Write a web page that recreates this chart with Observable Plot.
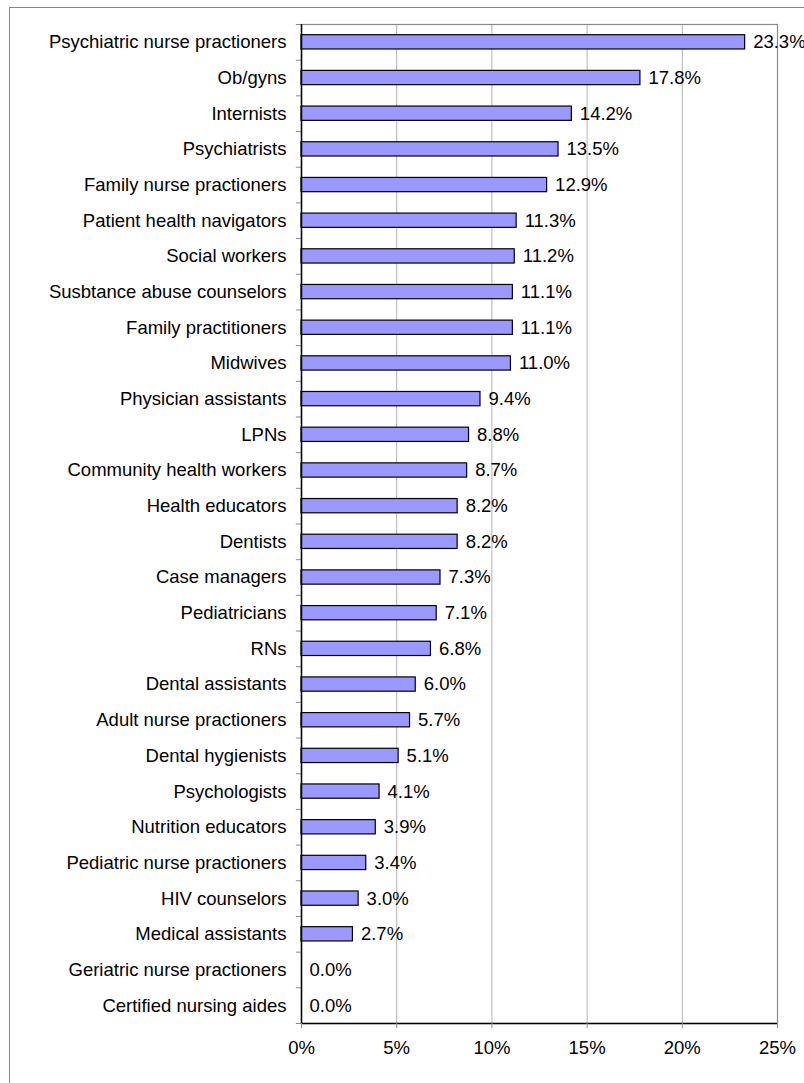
<!DOCTYPE html>
<html>
<head>
<meta charset="utf-8">
<script src="https://cdn.jsdelivr.net/npm/d3@7"></script>
<script src="https://cdn.jsdelivr.net/npm/@observablehq/plot@0.6"></script>
<style>
  html, body { margin: 0; padding: 0; background: #fff; overflow: hidden; }
  #wrap { position: relative; width: 804px; height: 1083px; }
  #border { position: absolute; left: 9px; top: 7px; width: 1000px; height: 1200px; border: 1px solid #888; box-sizing: border-box; }
  #chart { position: absolute; left: 0; top: 0; }
  #chart svg { background: none; }
</style>
</head>
<body>
<div id="wrap"><div id="border"></div><div id="chart"></div></div>
<script>
const categories = [
  "Psychiatric nurse practioners", "Ob/gyns", "Internists", "Psychiatrists",
  "Family nurse practioners", "Patient health navigators", "Social workers",
  "Susbtance abuse counselors", "Family practitioners", "Midwives",
  "Physician assistants", "LPNs", "Community health workers", "Health educators",
  "Dentists", "Case managers", "Pediatricians", "RNs", "Dental assistants",
  "Adult nurse practioners", "Dental hygienists", "Psychologists",
  "Nutrition educators", "Pediatric nurse practioners", "HIV counselors",
  "Medical assistants", "Geriatric nurse practioners", "Certified nursing aides"
];
const values = [23.3, 17.8, 14.2, 13.5, 12.9, 11.3, 11.2, 11.1, 11.1, 11.0,
  9.4, 8.8, 8.7, 8.2, 8.2, 7.3, 7.1, 6.8, 6.0, 5.7, 5.1, 4.1, 3.9, 3.4, 3.0, 2.7, 0.0, 0.0];
const xTicks = [0, 5, 10, 15, 20, 25];
const gridTicks = [5, 10, 15, 20];

const data = categories.map((c, i) => ({cat: c, v: values[i]}));

const W = 804, H = 1083, mt = 24, mb = 60, ml = 301, mr = 27;
const step = (H - mt - mb) / categories.length;
const font = "Arial, 'Liberation Sans', sans-serif";
const fs = 18.5;

const chart = Plot.plot({
  width: W,
  height: H,
  marginTop: mt,
  marginBottom: mb,
  marginLeft: ml,
  marginRight: mr,
  style: {fontFamily: font, fontSize: fs + "px", background: "none", color: "#000", overflow: "visible"},
  x: {domain: [0, 25], axis: null},
  y: {domain: categories, paddingInner: 0.6, paddingOuter: 0.3, round: false, axis: null},
  marks: [
    Plot.ruleX(gridTicks, {stroke: "#b3b3b3", strokeWidth: 1}),
    Plot.frame({stroke: "#8a8a8a", strokeWidth: 1.2}),
    Plot.barX(data, {y: "cat", x: "v", fill: "#9999ff", stroke: "#000", strokeWidth: 1.2}),
    Plot.text(data, {y: "cat", x: "v", text: d => d.v.toFixed(1) + "%", textAnchor: "start", dx: 8, fontSize: fs, fill: "#000"}),
    // y-axis boundary ticks
    Plot.ruleY(categories, {y: d => d, x1: -0.27, x2: 0, dy: -step / 2, stroke: "#8a8a8a"}),
    Plot.ruleY([categories[categories.length - 1]], {y: d => d, x1: -0.27, x2: 0, dy: step / 2, stroke: "#8a8a8a"}),
    // axis lines
    Plot.ruleY([categories[categories.length - 1]], {y: d => d, x1: 0, x2: 25, dy: step / 2, stroke: "#000", strokeWidth: 1.5}),
    Plot.ruleX([0], {stroke: "#000", strokeWidth: 1.5}),
    Plot.axisY({tickSize: 0, tickPadding: 15, fontSize: fs, fill: "#000", label: null}),
    Plot.axisX(xTicks, {tickSize: 5, stroke: "#8a8a8a", tickFormat: () => "", label: null}),
    Plot.axisX(xTicks, {tickSize: 0, tickPadding: 17, tickFormat: d => d + "%", fontSize: fs, fill: "#000", label: null})
  ]
});
document.getElementById("chart").appendChild(chart);
</script>
</body>
</html>
